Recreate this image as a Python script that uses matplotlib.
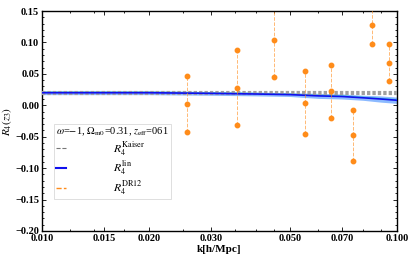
import numpy as np
import matplotlib
matplotlib.use("Agg")
import matplotlib.pyplot as plt
from matplotlib.ticker import FixedLocator, NullFormatter, MultipleLocator

plt.rcParams["font.family"] = "Liberation Serif"
plt.rcParams["mathtext.fontset"] = "stix"

# ------------------ data ------------------
k_curve = [0.010, 0.015, 0.020, 0.030, 0.040, 0.050, 0.060, 0.070, 0.080, 0.090, 0.100]
r4_kaiser = [0.020, 0.020, 0.020, 0.020, 0.020, 0.020, 0.020, 0.020, 0.020, 0.020, 0.020]
r4_lin = [0.020, 0.020, 0.020, 0.019, 0.018, 0.017, 0.015, 0.014, 0.012, 0.010, 0.008]
r4_lin_err = [0.003, 0.003, 0.003, 0.003, 0.003, 0.003, 0.004, 0.004, 0.004, 0.005, 0.005]

k_dr12 = [0.0256, 0.0354, 0.0451, 0.0551, 0.0652, 0.0752, 0.0851, 0.0949]
r4_dr12 = [0.002, 0.028, 0.104, 0.004, 0.022, -0.048, 0.128, 0.068]
r4_dr12_err = [0.044, 0.060, 0.059, 0.050, 0.042, 0.040, 0.031, 0.029]

xticks = [0.010, 0.015, 0.020, 0.030, 0.050, 0.070, 0.100]
xticklabels = ["0.010", "0.015", "0.020", "0.030", "0.050", "0.070", "0.100"]

orange = "#ff8c1a"

fig = plt.figure(figsize=(4.15, 2.58), dpi=100)
ax = fig.add_axes([0.101, 0.105, 0.856, 0.852])

k_curve = np.array(k_curve)
lin = np.array(r4_lin)
err = np.array(r4_lin_err)

# lin band + line
ax.fill_between(k_curve, lin - err, lin + err, color="#3f8cff", alpha=0.6, lw=0, zorder=2)
ax.plot(k_curve, lin + 0.001, color="#3ccfcf", lw=0.8, zorder=3)
# Kaiser
ax.plot(k_curve, r4_kaiser, color="#a0a0a0", lw=3, ls=(0, (0.8, 0.5)), zorder=3)
ax.plot(k_curve, lin, color="#1010ee", lw=1.2, zorder=4)

# DR12 points with error range
for k, c, e in zip(k_dr12, r4_dr12, r4_dr12_err):
    ax.plot([k, k, k], [c - e, c, c + e], color=orange, ls="--", lw=0.7, alpha=0.6,
            zorder=5)
    ax.plot([k, k, k], [c - e, c, c + e], ls="none", marker="o", ms=3.2,
            color=orange, zorder=6)

ax.set_xscale("log")
ax.set_xlim(0.010, 0.100)
ax.set_ylim(-0.20, 0.15)
ax.xaxis.set_major_locator(FixedLocator(xticks))
ax.set_xticklabels(xticklabels)
ax.xaxis.set_minor_locator(FixedLocator([0.012, 0.014, 0.017, 0.025, 0.035, 0.040,
                                         0.045, 0.060, 0.080, 0.090]))
ax.xaxis.set_minor_formatter(NullFormatter())
ax.yaxis.set_major_locator(MultipleLocator(0.05))
ax.yaxis.set_minor_locator(MultipleLocator(0.01))
ax.set_yticklabels([f"{v:.2f}".replace("-", "\u2212") for v in ax.get_yticks()])

ax.tick_params(which="both", direction="in", top=True, right=True,
               labelsize=7.5, width=0.6, pad=2)
ax.tick_params(which="major", length=3)
ax.tick_params(which="minor", length=1.5)
for lab in ax.get_xticklabels() + ax.get_yticklabels():
    lab.set_fontweight("bold")
for s in ax.spines.values():
    s.set_linewidth(1.0)

ax.set_xlabel("k[h/Mpc]", fontsize=8, fontweight="bold", labelpad=2)
ax.set_ylabel(r"$R_4(z_3)$", fontsize=8, labelpad=1)

# legend
h1, = ax.plot([], [], color="#777777", ls="--", lw=0.8)
h2, = ax.plot([], [], color="#1010ee", lw=1.5)
h3, = ax.plot([], [], color=orange, ls="--", lw=1.0)
leg = ax.legend([h1, h2, h3],
                [r"$R_4^{\rm Kaiser}$", r"$R_4^{\rm lin}$", r"$R_4^{\rm DR12}$"],
                title=r"$\omega$=$-$1, $\Omega_{\rm m0}$=0.31, $z_{\rm eff}$=061",
                loc="lower left", bbox_to_anchor=(0.035, 0.145), fontsize=8.5,
                title_fontsize=7.5, frameon=True, fancybox=False, handlelength=0.8,
                handletextpad=4.0, labelspacing=0.15, borderpad=0.15,
                borderaxespad=0)
leg.get_frame().set_edgecolor("#d0d0d0")
leg.get_frame().set_linewidth(0.6)
leg._legend_box.align = "left"

fig.savefig("out.png", dpi=100)
